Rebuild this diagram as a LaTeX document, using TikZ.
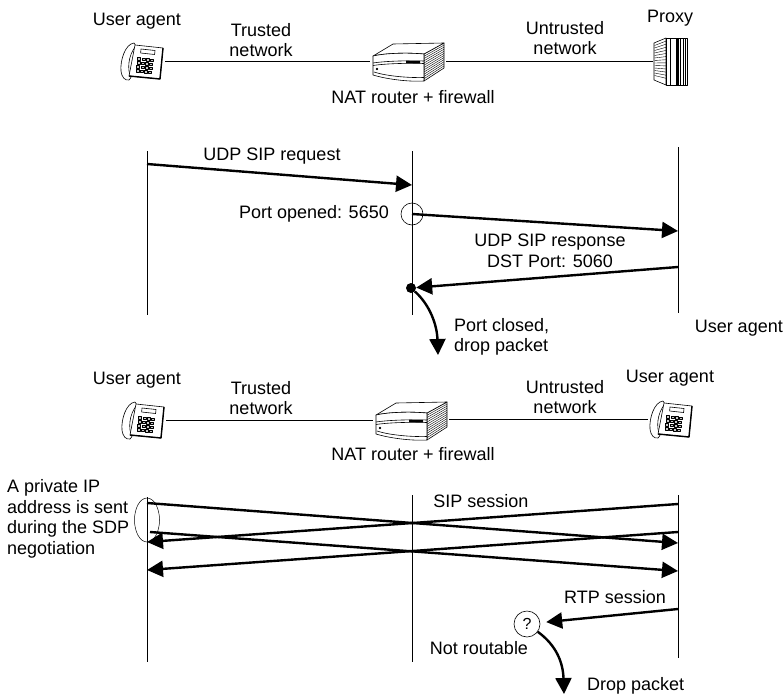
\documentclass[tikz,border=0pt]{standalone}
\usepackage{fontspec}
\setmainfont{Liberation Sans}
\usetikzlibrary{arrows.meta,shapes.geometric}

\tikzset{
  lbl/.style={font=\fontsize{18}{20.5}\selectfont, inner sep=0pt, align=center},
  lbll/.style={lbl, align=left},
  icon/.style={rectangle, inner sep=0pt, outer sep=0pt, draw=none},
  lifeline/.style={line width=1pt},
  netlink/.style={line width=1pt},
  msgarrow/.style={line width=2.4pt, -{Triangle[length=16pt,width=16pt]}},
  % desk telephone: handset on the left, tilted base with display and keypad
  deskphone/.pic={
    \begin{scope}[line width=0.6pt, line join=round]
      \draw[fill=white] (-8,-18) .. controls (-17,-17) and (-22,0) .. (-21,10)
        .. controls (-20,17) and (-17,19.5) .. (-13,19) -- (-11,16.5)
        .. controls (-15,9) and (-14,-6) .. (-6,-15) -- cycle;
      \draw[fill=white] (-7,-16) -- (21,-13) -- (18,18) -- (-13,15) -- cycle;
      \draw[line width=1.4pt] (21,-13) -- (18,18) -- (-13,15);
      \draw (-1,-12) -- (13,-10.5) -- (12.6,-6.5) -- (-1.4,-8) -- cycle;
      \foreach \r in {0,1,2,3}{
        \foreach \c in {0,1,2,3}{
          \draw[line width=0.35pt, fill=gray!45]
            ({-4.5+\c*4.2-\r*0.5},{-3.5+\r*4+\c*0.45}) rectangle ++(3,2.6);
        }
      }
    \end{scope}
  },
  % NAT box: rounded front, vented right side
  router/.pic={
    \begin{scope}[line width=0.6pt, line join=round]
      \draw[fill=white] (16,-8) -- (36,-19) -- (36,6) -- (16,19) -- cycle;
      \foreach \k in {1,...,11}
        \draw[line width=0.4pt] (16,{-8+\k*2.25}) -- (36,{-19+\k*2.08});
      \draw[fill=white] (-35,-6) -- (-15,-18) -- (36,-19) -- (16,-8)
        .. controls (0,-9.5) and (-22,-9) .. (-35,-6) -- cycle;
      \draw[fill=white] (-35,-6) .. controls (-22,-9) and (0,-9.5) .. (16,-8)
        -- (16,19) .. controls (0,20) and (-22,17) .. (-35,13) -- cycle;
      \draw (-35,1) .. controls (-22,-1) and (0,-1.5) .. (16,-1);
      \draw (-35,3.5) .. controls (-22,1.5) and (0,1) .. (16,1.5);
      \fill (-2,-1.3) -- (12,-1.1) -- (12,1.4) -- (-2,1.1) -- cycle;
      \draw (-34,10) .. controls (-22,14) and (0,16) .. (16,15.5);
      \draw (-31,7) circle (0.9);
    \end{scope}
  },
  % tower server
  server/.pic={
    \begin{scope}[line width=0.6pt, line join=round]
      \draw[fill=white] (-17,-18) -- (-5,-23) -- (-5,24) -- (-17,19) -- cycle;
      \foreach \k in {1,...,13}
        \draw[line width=0.4pt] (-16.5,{-18+\k*2.5}) -- (-5,{-23+\k*3.1});
      \draw[fill=white] (-5,-23) rectangle (16,24);
      \foreach \xx in {-1,9.5,12,14}
        \draw[line width=0.5pt] (\xx,-23) -- (\xx,24);
      \fill (5,-23) rectangle (7.5,24);
    \end{scope}
  }
}

\begin{document}
\begin{tikzpicture}[x=1pt,y=-1pt]
\useasboundingbox (0,0) rectangle (784,696);

% ---------- upper network ----------
\node[icon, minimum width=46pt, minimum height=40pt] (uaA) at (142,61) {};
\pic at (uaA.center) {deskphone};
\node[icon, minimum width=76pt, minimum height=42pt] (natA) at (408,62) {};
\pic at (natA.center) {router};
\node[icon, minimum width=36pt, minimum height=48pt] (proxy) at (671,61) {};
\pic at (proxy.center) {server};
\draw[netlink] (uaA.east) -- (uaA.east -| natA.west);
\draw[netlink] (natA.east |- proxy.west) -- (proxy.west);

\node[lbl] (uaAl) at (137,21) {User agent};
\node[lbl] (trA) at (261,40) {Trusted\\network};
\node[lbl] (natAl) at (413,97) {NAT router + firewall};
\node[lbl] (utA) at (565,38) {Untrusted\\network};
\node[lbl] (proxyl) at (670,18) {Proxy};

% ---------- first exchange ----------
\coordinate (A1) at (147,151); \coordinate (A1e) at (147,315);
\coordinate (B1) at (412,151); \coordinate (B1e) at (412,315);
\coordinate (C1) at (678,147); \coordinate (C1e) at (678,313);
\draw[lifeline] (A1) -- (A1e);
\draw[lifeline] (B1) -- (B1e);
\draw[lifeline] (C1) -- (C1e);

\coordinate (r1s) at (147,164); \coordinate (r1e) at (412,185);
\draw[msgarrow] (r1s) -- (r1e);
\node[lbl] (reqlbl) at (272,156) {UDP SIP request};

\node[circle, draw, line width=0.6pt, minimum size=22pt, inner sep=0pt] (popen) at (412,214) {};
\node[lbl, anchor=east] (poplbl) at (389,214) {Port opened: 5650};
\coordinate (r2e) at (678,231);
\draw[msgarrow] (popen.center) -- (r2e);

\node[lbl] (resplbl) at (550,251) {UDP SIP response\\DST Port: 5060};
\coordinate (r3s) at (678,267);
\node[circle, fill, minimum size=10pt, inner sep=0pt] (pclosed) at (411,288) {};
\draw[msgarrow] (r3s) -- (pclosed);
\draw[msgarrow] (pclosed) .. controls (430,305) and (437,325) .. (438,355);
\node[lbll, anchor=west] (pclbl) at (454,337) {Port closed,\\drop packet};
\node[lbl, anchor=east] (uarl) at (783,328) {User agent};

% ---------- lower network ----------
\node[icon, minimum width=46pt, minimum height=40pt] (uaB) at (143,420) {};
\pic at (uaB.center) {deskphone};
\node[icon, minimum width=76pt, minimum height=42pt] (natB) at (411,421) {};
\pic at (natB.center) {router};
\node[icon, minimum width=46pt, minimum height=40pt] (uaC) at (671,419) {};
\pic at (uaC.center) {deskphone};
\draw[netlink] (uaB.east) -- (uaB.east -| natB.west);
\draw[netlink] (natB.east |- uaC.west) -- (uaC.west);

\node[lbl] (uaBl) at (137,380) {User agent};
\node[lbl] (trB) at (261,398) {Trusted\\network};
\node[lbl] (natBl) at (413,454) {NAT router + firewall};
\node[lbl] (utB) at (565,397) {Untrusted\\network};
\node[lbl] (uaCl) at (670,378) {User agent};

% ---------- second exchange ----------
\coordinate (A2) at (147,497); \coordinate (A2e) at (147,662);
\coordinate (B2) at (412,495); \coordinate (B2e) at (412,662);
\coordinate (C2) at (678,495); \coordinate (C2e) at (678,658);
\draw[lifeline] (A2) -- (A2e);
\draw[lifeline] (B2) -- (B2e);
\draw[lifeline] (C2) -- (C2e);

\coordinate (s1s) at (147,503); \coordinate (s1e) at (678,543);
\coordinate (s2s) at (678,504); \coordinate (s2e) at (147,542);
\coordinate (s3s) at (678,532); \coordinate (s3e) at (147,570);
\coordinate (s4s) at (150,532); \coordinate (s4e) at (678,571);
\draw[msgarrow] (s1s) -- (s1e);
\draw[msgarrow] (s2s) -- (s2e);
\draw[msgarrow] (s3s) -- (s3e);
\draw[msgarrow] (s4s) -- (s4e);

\node[ellipse, draw, line width=0.5pt, minimum width=25pt, minimum height=44pt, inner sep=0pt] (privip) at (147,520) {};
\node[lbll, anchor=west] (privlbl) at (7,519) {A private IP\\address is sent\\during the SDP\\negotiation};
\node[lbl] (siplbl) at (481,501) {SIP session};

\node[lbl] (rtplbl) at (615,597) {RTP session};
\coordinate (rtps) at (678,609);
\node[circle, draw, line width=0.6pt, minimum size=26pt, inner sep=0pt, font=\fontsize{16}{16}\selectfont] (noroute) at (527,624) {?};
\draw[msgarrow, shorten >=6pt] (rtps) -- (noroute);
\draw[msgarrow] (noroute) .. controls (556,645) and (563,662) .. (564,694);
\node[lbl] (nrlbl) at (479,648) {Not routable};
\node[lbl, anchor=west] (droplbl) at (587,686) {Drop packet};

\end{tikzpicture}
\end{document}
